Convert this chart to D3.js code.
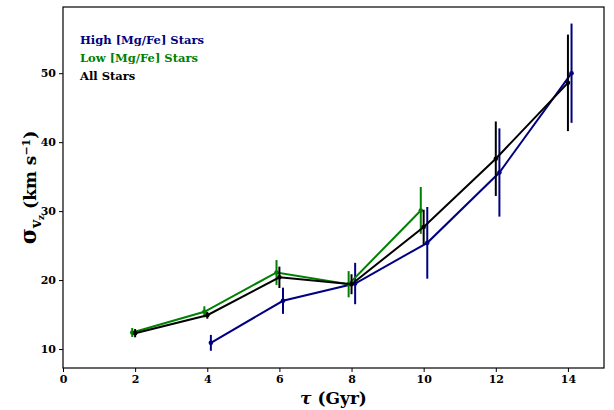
<!DOCTYPE html>
<html><head><meta charset="utf-8">
<script src="https://cdn.jsdelivr.net/npm/d3@7"></script>
<style>body{margin:0;background:#fff}svg{display:block}text{font-family:"DejaVu Serif",serif;font-weight:bold}</style>
</head><body>
<svg id="c" width="614" height="410"></svg>
<script>
const highAge = [4.1, 6.1, 8.1, 10.1, 12.1, 14.1];
const highSig = [10.9, 17.0, 19.5, 25.4, 35.6, 50.0];
const highErr = [1.15, 1.9, 3.0, 5.2, 6.4, 7.2];
const lowAge = [1.92, 3.92, 5.92, 7.92, 9.92];
const lowSig = [12.4, 15.4, 21.1, 19.4, 30.1];
const lowErr = [0.65, 0.8, 1.8, 1.9, 3.4];
const allAge = [2.0, 4.0, 6.0, 8.0, 10.0, 12.0, 14.0];
const allSig = [12.3, 14.9, 20.4, 19.4, 27.7, 37.6, 48.6];
const allErr = [0.6, 0.5, 1.55, 1.45, 2.5, 5.4, 7.0];
const xTicks = [0, 2, 4, 6, 8, 10, 12, 14];
const yTicks = [10, 20, 30, 40, 50];
const seriesNames = ["High [Mg/Fe] Stars", "Low [Mg/Fe] Stars", "All Stars"];
const seriesColors = ["#000080", "#008000", "#000000"];

const svg = d3.select("#c");
const L = 63, R = 604, T = 7, B = 368;
const x = d3.scaleLinear().domain([0, 15]).range([L, R]);
const y = d3.scaleLinear().domain([7.25, 59.6]).range([B, T]);

const series = [
  {age: highAge, sig: highSig, err: highErr},
  {age: lowAge, sig: lowSig, err: lowErr},
  {age: allAge, sig: allSig, err: allErr}
];

series.forEach((s, i) => {
  const pts = s.age.map((a, j) => ({a, v: s.sig[j], e: s.err[j]}));
  const g = svg.append("g");
  g.append("path").datum(pts)
    .attr("fill", "none").attr("stroke", seriesColors[i]).attr("stroke-width", 2)
    .attr("d", d3.line().x(d => x(d.a)).y(d => y(d.v)));
  g.selectAll("line.e").data(pts).enter().append("line")
    .attr("x1", d => x(d.a)).attr("x2", d => x(d.a))
    .attr("y1", d => y(d.v - d.e)).attr("y2", d => y(d.v + d.e))
    .attr("stroke", seriesColors[i]).attr("stroke-width", 2);
  g.selectAll("circle").data(pts).enter().append("circle")
    .attr("cx", d => x(d.a)).attr("cy", d => y(d.v)).attr("r", 2.3)
    .attr("fill", seriesColors[i]);
});

// frame
svg.append("rect").attr("x", L).attr("y", T).attr("width", R - L).attr("height", B - T)
  .attr("fill", "none").attr("stroke", "#000").attr("stroke-width", 1.2);

const xa = svg.append("g").attr("transform", `translate(0,${B})`)
  .call(d3.axisBottom(x).tickValues(xTicks).tickSize(4).tickPadding(3).tickFormat(d3.format("d")));
const ya = svg.append("g").attr("transform", `translate(${L},0)`)
  .call(d3.axisLeft(y).tickValues(yTicks).tickSize(4).tickPadding(3).tickFormat(d3.format("d")));
[xa, ya].forEach(a => {
  a.select(".domain").remove();
  a.selectAll(".tick line").attr("stroke", "#000").attr("stroke-width", 1);
  a.selectAll(".tick text").attr("fill", "#000").style("font-size", "11px")
    .style("font-family", "DejaVu Serif").style("font-weight", "bold");
});

// x label
const xl = svg.append("text").attr("x", (L + R) / 2).attr("y", 404).attr("text-anchor", "middle")
  .style("font-size", "17px");
xl.append("tspan").text("τ").style("font-style", "italic");
xl.append("tspan").text(" (Gyr)");

// y label
const yl = svg.append("text").attr("transform", `translate(36,${(T + B) / 2}) rotate(-90)`)
  .attr("text-anchor", "middle").style("font-size", "17px");
yl.append("tspan").text("σ").style("font-size", "22px");
yl.append("tspan").text("v").attr("dy", 5).style("font-size", "14px");
yl.append("tspan").text("z").attr("dy", 3).style("font-size", "9px");
yl.append("tspan").text(" (km s").attr("dy", -8);
yl.append("tspan").text("−1").attr("dy", -6).style("font-size", "11px");
yl.append("tspan").text(")").attr("dy", 6);

// legend
svg.selectAll("text.leg").data(seriesNames).enter().append("text")
  .attr("class", "leg").attr("x", 80).attr("y", (d, i) => 44 + i * 18)
  .attr("fill", (d, i) => seriesColors[i]).style("font-size", "11.5px").text(d => d);
</script>
</body></html>
